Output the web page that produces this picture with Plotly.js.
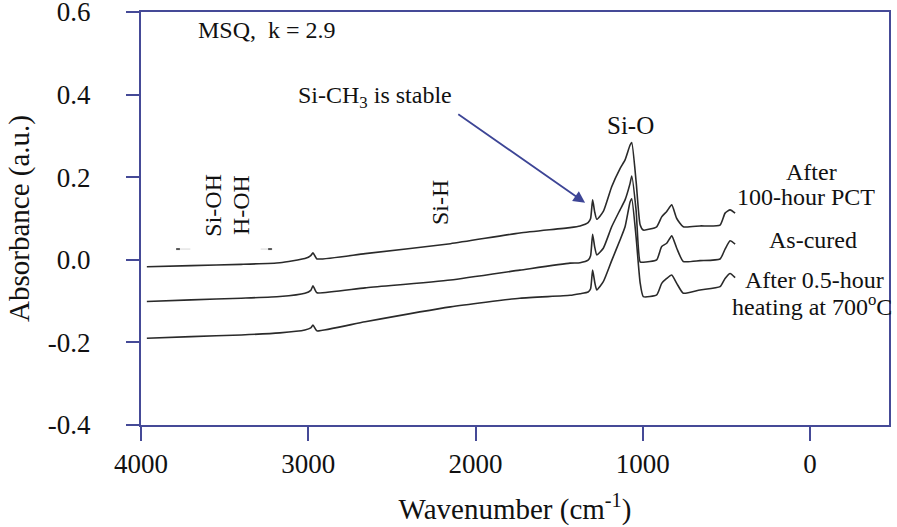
<!DOCTYPE html>
<html>
<head>
<meta charset="utf-8">
<script src="https://cdn.plot.ly/plotly-3.0.1.min.js"></script>
</head>
<body style="margin:0">
<div id="chart" style="width:897px;height:527px"></div>
<script>
// Wavenumber (cm-1)
const wavenumber = [3965, 3700, 3400, 3170, 3020, 2985, 2972, 2958, 2948, 2660, 2150, 1735, 1435, 1375, 1327, 1312, 1300, 1287, 1275, 1236, 1186, 1136, 1106, 1076, 1066, 1040, 1016, 997, 917, 887, 857, 827, 797, 758, 658, 538, 508, 478, 448];
// After 100-hour PCT
const afterPCT = [-0.017, -0.014, -0.011, -0.007, 0.003, 0.010, 0.017, 0.008, 0.002, 0.015, 0.039, 0.065, 0.078, 0.082, 0.090, 0.100, 0.145, 0.115, 0.098, 0.117, 0.177, 0.221, 0.242, 0.278, 0.284, 0.190, 0.085, 0.072, 0.080, 0.104, 0.117, 0.133, 0.100, 0.080, 0.082, 0.084, 0.113, 0.121, 0.113];
// As-cured
const asCured = [-0.101, -0.097, -0.093, -0.089, -0.081, -0.074, -0.063, -0.074, -0.080, -0.068, -0.049, -0.025, -0.008, -0.007, -0.001, 0.010, 0.062, 0.030, 0.012, 0.028, 0.080, 0.121, 0.145, 0.185, 0.203, 0.120, -0.005, -0.006, 0.000, 0.032, 0.040, 0.058, 0.028, -0.004, -0.002, 0.002, 0.026, 0.046, 0.038];
// After 0.5-hour heating at 700 C
const afterHeating = [-0.190, -0.186, -0.182, -0.177, -0.170, -0.165, -0.158, -0.167, -0.172, -0.150, -0.114, -0.093, -0.086, -0.082, -0.078, -0.070, -0.025, -0.055, -0.073, -0.053, -0.002, 0.048, 0.080, 0.140, 0.148, 0.055, -0.055, -0.089, -0.085, -0.057, -0.045, -0.037, -0.057, -0.081, -0.073, -0.065, -0.045, -0.033, -0.043];

const xTickVals = [4000, 3000, 2000, 1000, 0];
const xTickText = ['4000', '3000', '2000', '1000', '0'];
const yTickVals = [-0.4, -0.2, 0.0, 0.2, 0.4, 0.6];
const yTickText = ['-0.4', '-0.2', '0.0', '0.2', '0.4', '0.6'];

const fam = 'serif';
const AXC = '#454a97';
const lineStyle = {color: '#2a2a2a', width: 1.6, shape: 'spline', smoothing: 0.5};

const traces = [afterPCT, asCured, afterHeating].map((ys, i) => ({
  x: wavenumber, y: ys, type: 'scatter', mode: 'lines', line: lineStyle,
  name: ['After 100-hour PCT', 'As-cured', 'After 0.5-hour heating at 700oC'][i],
  showlegend: false, hoverinfo: 'skip'
}));

const ann = (text, x, y, size, extra) => Object.assign({
  text: text, xref: 'paper', yref: 'paper', x: x, y: y, showarrow: false,
  xanchor: 'center', yanchor: 'middle', font: {family: fam, size: size, color: '#111'}
}, extra || {});

const layout = {
  width: 897, height: 527,
  margin: {l: 141, r: 8, t: 12, b: 102},
  font: {family: fam, size: 24, color: '#111'},
  xaxis: {
    range: [4000, -472], tickvals: xTickVals, ticktext: xTickText,
    showgrid: false, zeroline: false, showline: true, mirror: true,
    linecolor: AXC, linewidth: 2, ticks: 'outside', ticklen: 14, tickwidth: 2, tickcolor: AXC,
    tickfont: {family: fam, size: 27, color: '#111'},
    title: {text: 'Wavenumber (cm<sup>-1</sup>)', font: {family: fam, size: 29, color: '#111'}, standoff: 20}
  },
  yaxis: {
    range: [-0.4, 0.6], tickvals: yTickVals, ticktext: yTickText,
    showgrid: false, zeroline: false, showline: true, mirror: true,
    linecolor: AXC, linewidth: 2, ticks: 'outside', ticklen: 13, tickwidth: 2, tickcolor: AXC,
    ticklabelstandoff: 30, ticklabeloverflow: 'allow',
    tickfont: {family: fam, size: 27, color: '#111'},
    title: {text: 'Absorbance (a.u.)', font: {family: fam, size: 29, color: '#111'}, standoff: 10}
  },
  annotations: [
    ann('MSQ,  k = 2.9', 0.168, 0.956, 24),
    ann('Si-CH<sub>3</sub> is stable', 0.313, 0.794, 24),
    ann('Si-O', 0.655, 0.726, 25),
    ann('Si-OH', 0.096, 0.533, 24, {textangle: -90}),
    ann('H-OH', 0.134, 0.533, 24, {textangle: -90}),
    ann('Si-H', 0.400, 0.538, 24, {textangle: -90}),
    ann('After', 0.897, 0.613, 24),
    ann('100-hour PCT', 0.889, 0.552, 24),
    ann('As-cured', 0.898, 0.448, 24),
    ann('After 0.5-hour', 0.901, 0.351, 24),
    ann('heating at 700<sup>o</sup>C', 0.897, 0.291, 24),
    {x: 1345, y: 0.138, ax: 2112, ay: 0.355, xref: 'x', yref: 'y', axref: 'x', ayref: 'y',
     text: '', showarrow: true, arrowhead: 2, arrowsize: 1.3, arrowwidth: 1.8, arrowcolor: '#3d4596'}
  ],
  shapes: [
    {type: 'line', xref: 'paper', yref: 'paper', x0: 0.047, x1: 0.066, y0: 0.426, y1: 0.426, line: {color: '#d8d8d8', width: 1}},
    {type: 'line', xref: 'paper', yref: 'paper', x0: 0.047, x1: 0.052, y0: 0.426, y1: 0.426, line: {color: '#555', width: 2}},
    {type: 'line', xref: 'paper', yref: 'paper', x0: 0.160, x1: 0.176, y0: 0.426, y1: 0.426, line: {color: '#d8d8d8', width: 1}},
    {type: 'line', xref: 'paper', yref: 'paper', x0: 0.170, x1: 0.175, y0: 0.426, y1: 0.426, line: {color: '#555', width: 2}}
  ]
};

Plotly.newPlot('chart', traces, layout, {displayModeBar: false});
</script>
</body>
</html>
